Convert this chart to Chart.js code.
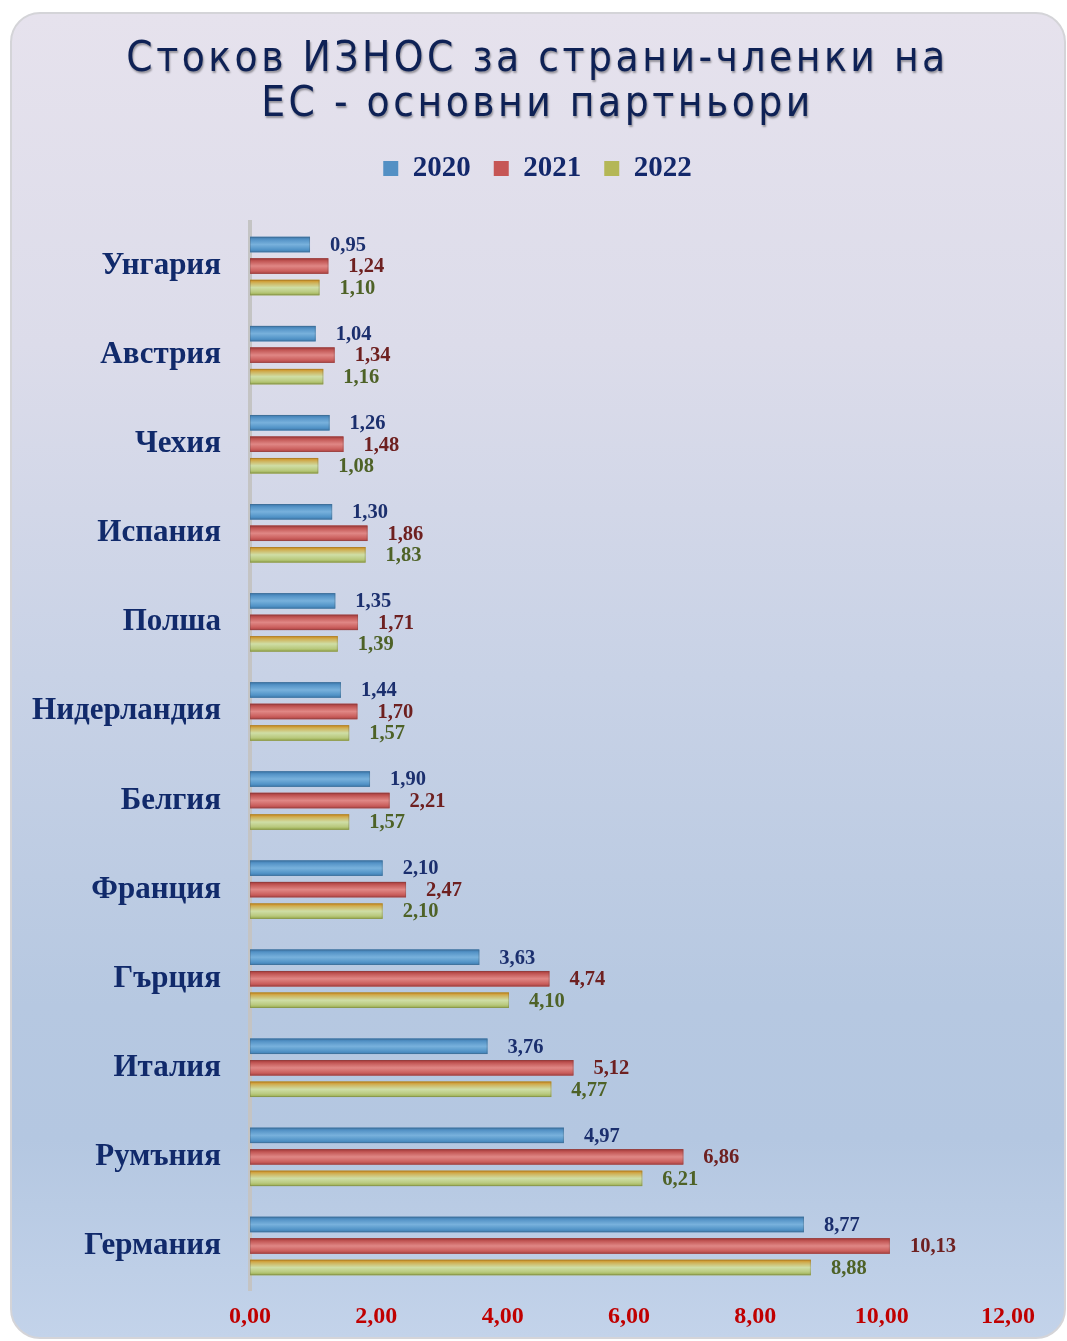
<!DOCTYPE html>
<html>
<head>
<meta charset="utf-8">
<script src="https://cdn.jsdelivr.net/npm/chart.js@4.4.0/dist/chart.umd.min.js"></script>
<style>
  html, body { margin: 0; padding: 0; background: #ffffff; }
  body { width: 1067px; height: 1341px; position: relative; overflow: hidden; }
  #panel {
    position: absolute; left: 10px; top: 12px; width: 1056px; height: 1327px;
    border-radius: 30px; border: 2px solid #d4d4d8; box-sizing: border-box;
    background: linear-gradient(to bottom, #e6e2ed 0%, #dcdcea 25%, #c8d2e6 50%, #b6c8e1 75%, #b4c7e1 85%, #c3d3ea 100%);
  }
  #wrap { position: absolute; left: 0; top: 0; width: 1067px; height: 1341px; }
</style>
</head>
<body>
<div id="panel"></div>
<div id="wrap"><canvas id="c" width="1067" height="1341"></canvas></div>
<script>
const categories = ['Унгария', 'Австрия', 'Чехия', 'Испания', 'Полша', 'Нидерландия', 'Белгия', 'Франция', 'Гърция', 'Италия', 'Румъния', 'Германия'];
const seriesNames = ['2020', '2021', '2022'];
const values2020 = [0.95, 1.04, 1.26, 1.30, 1.35, 1.44, 1.90, 2.10, 3.63, 3.76, 4.97, 8.77];
const values2021 = [1.24, 1.34, 1.48, 1.86, 1.71, 1.70, 2.21, 2.47, 4.74, 5.12, 6.86, 10.13];
const values2022 = [1.10, 1.16, 1.08, 1.83, 1.39, 1.57, 1.57, 2.10, 4.10, 4.77, 6.21, 8.88];
const titleLines = ['Стоков ИЗНОС за страни-членки на', 'ЕС - основни партньори'];
const xTickMax = 12;
const xTickStep = 2;

const fmt = v => v.toFixed(2).replace('.', ',');

const barGradients = [
  [[0, '#3b78ad'], [0.2, '#5795c8'], [0.5, '#78b1dc'], [0.8, '#5596c9'], [1, '#3e7db3']],
  [[0, '#a53838'], [0.2, '#c45a58'], [0.5, '#e08785'], [0.8, '#cc6260'], [1, '#b04242']],
  [[0, '#d08a18'], [0.2, '#cfb25a'], [0.5, '#cfdea6'], [0.8, '#b9c97e'], [1, '#98ab4a']]
];
const labelColors = ['#1b2f6e', '#6e2020', '#4e6227'];

const overlayPlugin = {
  id: 'barOverlay',
  afterDatasetsDraw(chart) {
    const ctx = chart.ctx;
    chart.data.datasets.forEach((ds, di) => {
      const meta = chart.getDatasetMeta(di);
      meta.data.forEach((el, i) => {
        const h = el.height;
        const top = el.y - h / 2;
        const g = ctx.createLinearGradient(0, top, 0, top + h);
        barGradients[di].forEach(s => g.addColorStop(s[0], s[1]));
        ctx.save();
        ctx.fillStyle = g;
        ctx.fillRect(el.base, top, el.x - el.base, h);
        ctx.strokeStyle = 'rgba(60,60,60,0.2)';
        ctx.lineWidth = 1;
        ctx.strokeRect(el.base + 0.5, top + 0.5, el.x - el.base - 1, h - 1);
        ctx.restore();
        ctx.save();
        ctx.font = 'bold 20.5px "Liberation Serif", serif';
        ctx.fillStyle = labelColors[di];
        ctx.textAlign = 'left';
        ctx.textBaseline = 'middle';
        ctx.fillText(fmt(ds.data[i]), el.x + 20, el.y + 1);
        ctx.restore();
      });
    });
  }
};

const titlePatch = {
  id: 'titlePatch',
  beforeDraw(chart) {
    const tb = chart.titleBlock;
    if (tb && !tb._patched) {
      const orig = tb.draw;
      tb.draw = function (area) {
        const c = this.ctx;
        c.save();
        c.letterSpacing = '3.5px';
        c.shadowColor = 'rgba(0,0,0,0.35)';
        c.shadowOffsetX = 1;
        c.shadowOffsetY = 2;
        c.shadowBlur = 2;
        orig.call(this, area);
        c.restore();
      };
      tb._patched = true;
    }
  }
};

new Chart(document.getElementById('c'), {
  type: 'bar',
  data: {
    labels: categories,
    datasets: [
      { label: seriesNames[0], data: values2020, backgroundColor: '#5390c4', borderWidth: 0, xAxisID: 'x', yAxisID: 'y' },
      { label: seriesNames[1], data: values2021, backgroundColor: '#c65655', borderWidth: 0, xAxisID: 'x', yAxisID: 'y' },
      { label: seriesNames[2], data: values2022, backgroundColor: '#b4b756', borderWidth: 0, xAxisID: 'x', yAxisID: 'y' }
    ]
  },
  plugins: [overlayPlugin, titlePatch],
  options: {
    indexAxis: 'y',
    responsive: false,
    animation: false,
    devicePixelRatio: 1,
    categoryPercentage: 0.724,
    barPercentage: 0.72,
    layout: { padding: { left: 8, right: 0, top: 2.5, bottom: 0 } },
    plugins: {
      tooltip: { enabled: false },
      title: {
        display: true,
        text: titleLines,
        color: '#0e2155',
        font: { family: '"Liberation Sans Narrow", "DejaVu Sans Condensed", sans-serif', size: 42, weight: 'normal', lineHeight: 1.05 },
        padding: { top: 36, bottom: 4.3 }
      },
      legend: {
        display: true,
        position: 'top',
        labels: {
          color: '#13286b',
          font: { family: '"Liberation Serif", serif', size: 29, weight: 'bold' },
          boxWidth: 15,
          boxHeight: 15,
          padding: 23
        }
      }
    },
    scales: {
      y: {
        grid: { display: false, drawTicks: false },
        border: { display: true, color: '#c4c4c4', width: 4 },
        ticks: {
          color: '#112a6b',
          padding: 29,
          font: { family: '"Liberation Serif", serif', size: 31, weight: 'bold' }
        },
        afterFit: s => { s.width = 242; }
      },
      x: {
        min: 0,
        max: xTickMax,
        grid: { display: false, drawTicks: false },
        border: { display: false },
        ticks: {
          stepSize: xTickStep,
          color: '#c00000',
          padding: 12,
          font: { family: '"Liberation Serif", serif', size: 24, weight: 'bold' },
          callback: v => fmt(v)
        },
        afterFit: s => { s.height = 50.5; }
      },
      xTopSpacer: {
        type: 'linear',
        position: 'top',
        axis: 'x',
        display: true,
        grid: { display: false, drawTicks: false },
        border: { display: false },
        ticks: { display: false },
        afterFit: s => { s.height = 28.5; }
      },
      yRightSpacer: {
        type: 'category',
        labels: categories,
        position: 'right',
        axis: 'y',
        display: true,
        grid: { display: false, drawTicks: false },
        border: { display: false },
        ticks: { display: false },
        afterFit: s => { s.width = 59; }
      }
    }
  }
});
</script>
</body>
</html>
